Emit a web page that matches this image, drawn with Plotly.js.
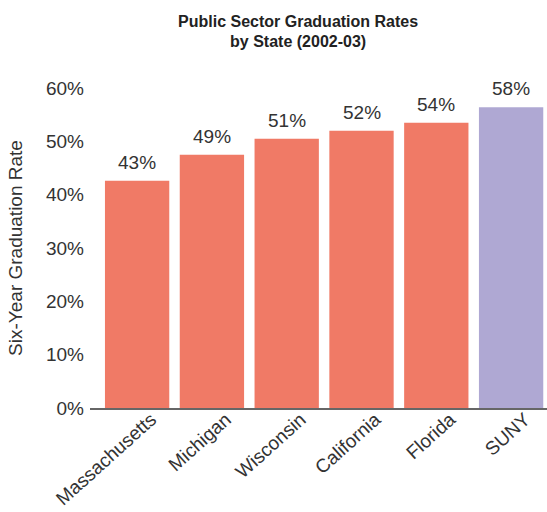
<!DOCTYPE html>
<html>
<head>
<meta charset="utf-8">
<script src="https://cdn.plot.ly/plotly-3.0.1.min.js"></script>
<style>html,body{margin:0;padding:0;background:#fff;}#chart{width:547px;height:512px;}</style>
</head>
<body>
<div id="chart"></div>
<script>
var categories = ["Massachusetts", "Michigan", "Wisconsin", "California", "Florida", "SUNY"];
var rates = [42.6, 47.5, 50.5, 52.0, 53.5, 56.4];
var rateLabels = ["43%", "49%", "51%", "52%", "54%", "58%"];
var barColors = ["#F07A66", "#F07A66", "#F07A66", "#F07A66", "#F07A66", "#AFA8D3"];
var yTickValues = [0, 10, 20, 30, 40, 50, 60];
var yTickLabels = ["0%", "10%", "20%", "30%", "40%", "50%", "60%"];

var FONT = "Liberation Sans, Arial, sans-serif";

var trace = {
  type: "bar",
  x: categories,
  y: rates,
  marker: {color: barColors, line: {width: 0}},
  hoverinfo: "none"
};

var labelAnnotations = categories.map(function (c, i) {
  return {
    x: c,
    y: rates[i],
    xref: "x",
    yref: "y",
    text: rateLabels[i],
    showarrow: false,
    yanchor: "bottom",
    yshift: 6,
    font: {family: FONT, size: 19, color: "#333333"}
  };
});

var layout = {
  width: 547,
  height: 512,
  margin: {l: 90, r: 0, t: 88, b: 104},
  paper_bgcolor: "#ffffff",
  plot_bgcolor: "#ffffff",
  bargap: 0.14,
  showlegend: false,
  font: {family: FONT, color: "#333333"},
  annotations: labelAnnotations,
  title: {
    text: "<b>Public Sector Graduation Rates<br>by State (2002-03)</b>",
    font: {family: FONT, size: 16, color: "#222222"},
    xref: "container",
    x: 0.545,
    xanchor: "center",
    yref: "container",
    y: 0.948,
    yanchor: "top"
  },
  xaxis: {
    type: "category",
    range: [-0.63, 5.48],
    tickangle: -42,
    tickfont: {family: FONT, size: 19, color: "#333333"},
    ticklabelshift: 14,
    ticklabelstandoff: -9,
    showgrid: false,
    zeroline: false,
    showline: true,
    linecolor: "#666666",
    linewidth: 2,
    ticks: "",
    fixedrange: true
  },
  yaxis: {
    range: [0, 60],
    tickvals: yTickValues,
    ticktext: yTickLabels,
    tickfont: {family: FONT, size: 19, color: "#333333"},
    ticklabelstandoff: 5,
    showgrid: false,
    zeroline: false,
    showline: false,
    ticks: "",
    title: {text: "Six-Year Graduation Rate", font: {family: FONT, size: 19, color: "#333333"}, standoff: 18},
    fixedrange: true
  }
};

Plotly.newPlot("chart", [trace], layout, {displayModeBar: false, staticPlot: true});
</script>
</body>
</html>
